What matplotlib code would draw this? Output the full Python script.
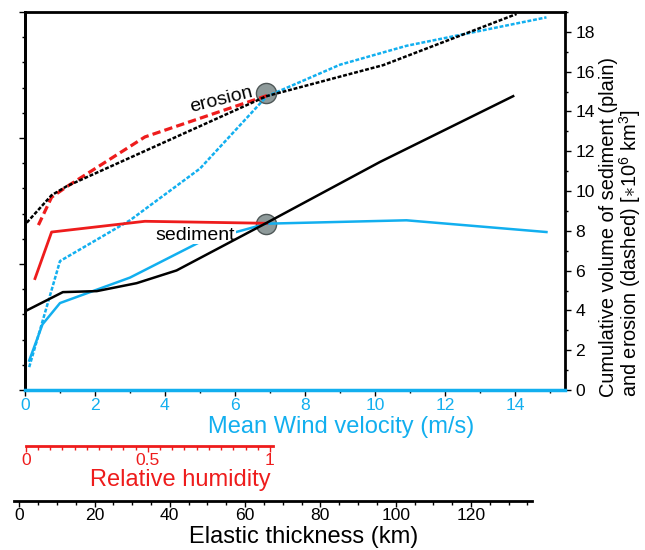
import numpy as np
import matplotlib
matplotlib.use('Agg')
import matplotlib.pyplot as plt
from matplotlib.ticker import MultipleLocator, NullFormatter, FixedLocator

FAM = 'Liberation Sans'
plt.rcParams['font.family'] = [FAM, 'DejaVu Sans']
plt.rcParams['mathtext.fontset'] = 'custom'
plt.rcParams['mathtext.rm'] = FAM
plt.rcParams['mathtext.it'] = FAM + ':italic'
plt.rcParams['mathtext.sf'] = FAM
plt.rcParams['lines.scale_dashes'] = False

# ---------------- data ----------------
# Mean wind velocity (m/s) series
wind_sed_x = [0.12, 0.5, 1, 3, 5, 6.9, 10.9, 14.9]
wind_sed_y = [1.48, 3.30, 4.37, 5.65, 7.44, 8.36, 8.53, 7.94]
wind_ero_x = [0.12, 1, 3, 5, 6.9, 9, 10.9, 14.9]
wind_ero_y = [1.15, 6.48, 8.53, 11.13, 14.75, 16.35, 17.3, 18.73]

# Relative humidity series
hum_sed_x = [0.038, 0.106, 0.488, 0.987]
hum_sed_y = [5.60, 7.94, 8.48, 8.38]
hum_ero_x = [0.052, 0.106, 0.168, 0.488, 0.993]
hum_ero_y = [8.29, 9.69, 10.22, 12.72, 14.82]

# Elastic thickness (km) series
te_sed_x = [2, 11.6, 20.6, 31.2, 41.8, 65.7, 95.8, 131.2]
te_sed_y = [4.00, 4.92, 4.97, 5.37, 6.01, 8.40, 11.46, 14.77]
te_ero_x = [2, 8.6, 12.6, 65.7, 96.7, 132.1]
te_ero_y = [8.41, 9.79, 10.24, 14.77, 16.33, 18.90]

# reference model (circles), wind coordinate
ref_x = [6.9, 6.9]
ref_y = [14.91, 8.36]

wind_ticks = [0, 2, 4, 6, 8, 10, 12, 14]
hum_ticks = [0, 0.5, 1]
hum_labels = ['0', '0.5', '1']
te_ticks = [0, 20, 40, 60, 80, 100, 120]
right_ticks = [0, 2, 4, 6, 8, 10, 12, 14, 16, 18]

CYAN = '#12AFEF'
RED = '#EE1C1C'

TICK_FS = 12.6
TITLE_FS = 17
LABEL_FS = 14
RIGHT_FS = 14.4

W, H = 645, 550
fig = plt.figure(figsize=(W / 100, H / 100), dpi=100)


def box(x0, y0, x1, y1):
    return [x0 / W, 1 - y1 / H, (x1 - x0) / W, (y1 - y0) / H]


# ---------------- main axes (wind) ----------------
ax = fig.add_axes(box(25, 12, 565, 390))
ax.set_xlim(0, 15.43)
ax.set_ylim(0, 19)
for s in ['left', 'right', 'top']:
    ax.spines[s].set_linewidth(2)
    ax.spines[s].set_color('black')
ax.spines['bottom'].set_linewidth(2.5)
ax.spines['bottom'].set_color(CYAN)

ax.xaxis.set_major_locator(FixedLocator(wind_ticks))
ax.xaxis.set_minor_locator(MultipleLocator(1))
ax.tick_params(axis='x', which='major', top=True, bottom=True, direction='out',
               length=4.5, width=1, labelsize=TICK_FS, labelcolor=CYAN, pad=1)
ax.tick_params(axis='x', which='minor', top=True, bottom=True, direction='out',
               length=2.2, width=1)

ax.yaxis.tick_right()
ax.yaxis.set_major_locator(FixedLocator(right_ticks))
ax.yaxis.set_minor_locator(MultipleLocator(1))
ax.tick_params(axis='y', which='major', right=True, left=False, direction='out',
               length=4.5, width=1, labelsize=TICK_FS, pad=3)
ax.tick_params(axis='y', which='minor', right=True, left=False, direction='out',
               length=2.2, width=1)

# left unlabeled scale 0-15
sec = ax.secondary_yaxis('left', functions=(lambda v: v * 15 / 19, lambda u: u * 19 / 15))
sec.yaxis.set_major_locator(MultipleLocator(5))
sec.yaxis.set_minor_locator(MultipleLocator(1))
sec.yaxis.set_major_formatter(NullFormatter())
sec.tick_params(which='major', length=4.5, width=1, direction='out')
sec.tick_params(which='minor', length=2.2, width=1, direction='out')
sec.spines['left'].set_linewidth(2)

# circles
ax.plot(ref_x, ref_y, 'o', ms=14.5, mfc='#8E9A9A', mec='#4F5858', mew=1, zorder=1.5)

# wind curves
ax.plot(wind_sed_x, wind_sed_y, color=CYAN, lw=1.8, zorder=2)
l, = ax.plot(wind_ero_x, wind_ero_y, color=CYAN, lw=1.8, zorder=2)
l.set_dashes((2.8, 1.3))

ax.text(5.6, 14.6, 'erosion', fontsize=LABEL_FS, rotation=14, ha='center', va='center', zorder=5)
ax.text(4.86, 7.78, 'sediment', fontsize=LABEL_FS, ha='center', va='center', zorder=5,
        bbox=dict(facecolor='white', edgecolor='none', pad=0.5))

# humidity curves
axh = ax.twiny()
axh.set_xlim((25 - 25.7) / 244.3, (565 - 25.7) / 244.3)
axh.set_ylim(0, 19)
axh.set_axis_off()
axh.plot(hum_sed_x, hum_sed_y, color=RED, lw=2)
l, = axh.plot(hum_ero_x, hum_ero_y, color=RED, lw=2.3)
l.set_dashes((6, 3))

# elastic thickness curves
axe = ax.twiny()
axe.set_xlim((25 - 19.2) / 3.765, (565 - 19.2) / 3.765)
axe.set_ylim(0, 19)
axe.set_axis_off()
axe.plot(te_sed_x, te_sed_y, color='black', lw=1.8)
l, = axe.plot(te_ero_x, te_ero_y, color='black', lw=1.8)
l.set_dashes((2.8, 1.3))

# ---------------- humidity scale ----------------
ah = fig.add_axes(box(25.7, 440, 272.7, 446))
ah.set_xlim(0, 247 / 244.3)
ah.patch.set_visible(False)
for s in ['left', 'right', 'top']:
    ah.spines[s].set_visible(False)
ah.spines['bottom'].set_color(RED)
ah.spines['bottom'].set_linewidth(2)
ah.set_yticks([])
ah.xaxis.set_major_locator(FixedLocator(hum_ticks))
ah.set_xticklabels(hum_labels)
ah.xaxis.set_minor_locator(MultipleLocator(0.05))
ah.tick_params(axis='x', which='major', direction='out', length=4, width=1,
               color=RED, labelcolor=RED, labelsize=TICK_FS, pad=1)
ah.tick_params(axis='x', which='minor', direction='out', length=3, width=1, color=RED)

# ---------------- elastic thickness scale ----------------
ae = fig.add_axes(box(14.4, 495, 531.7, 501))
ae.set_xlim((14.4 - 19.2) / 3.765, (531.7 - 19.2) / 3.765)
ae.patch.set_visible(False)
for s in ['left', 'right', 'top']:
    ae.spines[s].set_visible(False)
ae.spines['bottom'].set_linewidth(2)
ae.set_yticks([])
ae.xaxis.set_major_locator(FixedLocator(te_ticks))
ae.xaxis.set_minor_locator(MultipleLocator(5))
ae.tick_params(axis='x', which='major', direction='out', length=4, width=1,
               labelsize=TICK_FS, pad=1)
ae.tick_params(axis='x', which='minor', direction='out', length=3, width=1)

# ---------------- axis titles ----------------
fig.text(341 / W, 1 - 427 / H, 'Mean Wind velocity (m/s)', color=CYAN, fontsize=TITLE_FS,
         ha='center', va='center')
fig.text(180 / W, 1 - 480 / H, 'Relative humidity', color=RED, fontsize=TITLE_FS,
         ha='center', va='center')
fig.text(303.5 / W, 1 - 537 / H, 'Elastic thickness (km)', color='black', fontsize=TITLE_FS,
         ha='center', va='center')
fig.text(621 / W, 1 - 397 / H,
         'Cumulative volume of sediment (plain)\n'
         r'and erosion (dashed) [$\ast$10$^6$ km$^3$]',
         rotation=90, fontsize=RIGHT_FS, ha='center', va='bottom', multialignment='left',
         linespacing=0.95)

fig.savefig('out.png', dpi=100)
